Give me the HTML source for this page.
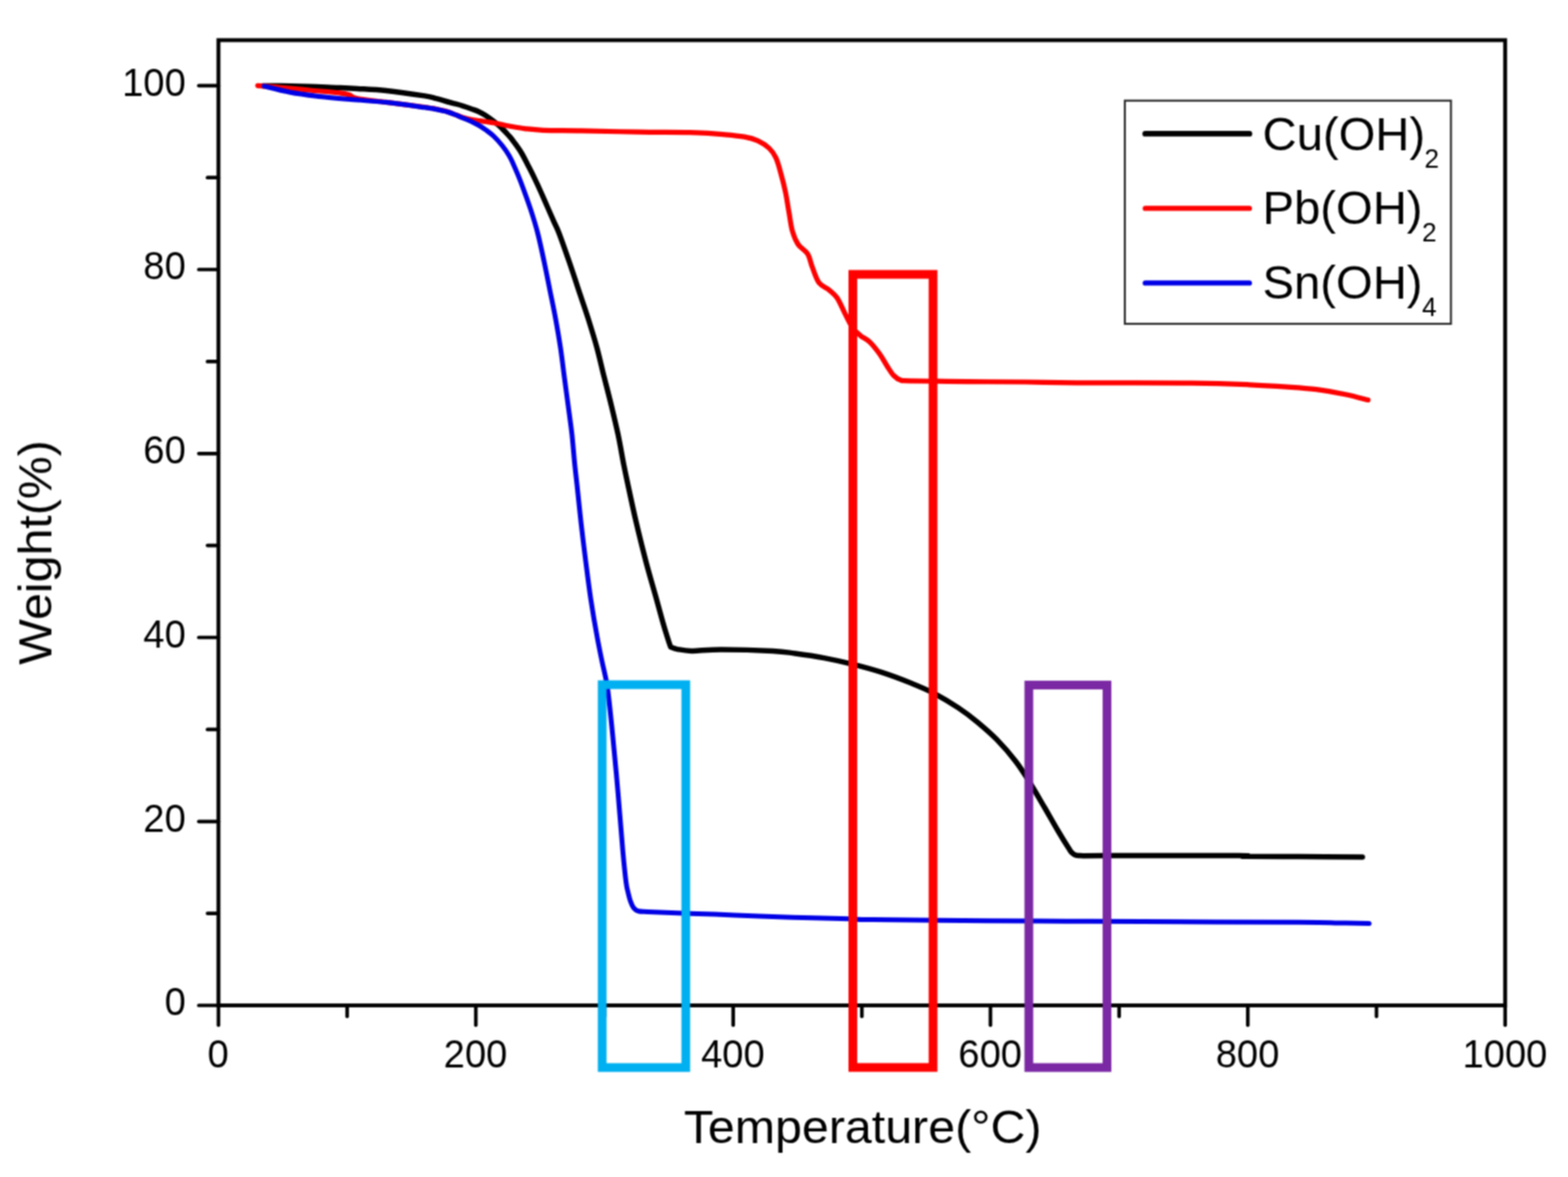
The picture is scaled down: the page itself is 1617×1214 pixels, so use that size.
<!DOCTYPE html>
<html lang="en"><head><meta charset="utf-8"><title>TGA curves</title>
<style>
html,body{margin:0;padding:0;background:#fff;}
body{width:1617px;height:1214px;overflow:hidden;}
svg{display:block;}
text{font-family:"Liberation Sans",Arial,Helvetica,sans-serif;fill:#000;}
.tk{font-size:41px;}
.lab{font-size:47.7px;}
.leg{font-size:48.7px;}
.sub{font-size:27px;}
.c{fill:none;stroke-linecap:round;stroke-linejoin:round;}
</style></head><body>
<svg width="1617" height="1214" viewBox="0 0 1617 1214">
<defs><filter id="soft" x="0" y="0" width="1617" height="1214" filterUnits="userSpaceOnUse" color-interpolation-filters="sRGB"><feConvolveMatrix order="3" kernelMatrix="1 2 1 2 4 2 1 2 1" divisor="16" edgeMode="duplicate" preserveAlpha="false"/></filter></defs>
<rect width="1617" height="1214" fill="#fff"/>
<g id="chart" filter="url(#soft)">
<g id="plot">
<path class="c" d="M271.0,88.6C274.2,88.6 282.0,88.5 290.0,88.6C298.0,88.7 309.4,89.0 319.2,89.3C329.0,89.6 340.7,90.2 349.0,90.5C357.3,90.8 360.6,90.9 368.8,91.4C377.0,91.9 386.8,92.2 398.3,93.5C409.8,94.8 429.3,97.6 437.9,98.9C446.5,100.2 446.0,100.6 450.0,101.6C454.0,102.6 458.4,104.1 461.7,105.0C465.0,105.9 467.4,106.5 470.0,107.2C472.6,107.9 474.8,108.5 477.5,109.3C480.2,110.1 483.4,111.2 486.0,112.2C488.6,113.2 490.8,113.8 493.3,115.0C495.8,116.2 498.4,117.6 501.0,119.3C503.6,121.0 506.5,123.1 509.2,125.2C511.9,127.3 514.4,129.3 517.0,131.8C519.6,134.3 522.8,137.8 525.0,140.2C527.2,142.6 527.9,143.6 530.0,146.5C532.1,149.4 535.3,153.7 537.6,157.5C539.9,161.3 541.8,165.2 544.0,169.5C546.2,173.8 548.7,178.6 551.0,183.4C553.3,188.2 555.7,193.3 558.0,198.5C560.3,203.7 562.8,209.4 565.0,214.5C567.2,219.6 569.4,224.6 571.3,228.9C573.2,233.2 573.9,233.7 576.5,240.5C579.1,247.3 583.5,259.9 586.9,269.7C590.3,279.5 593.5,289.5 596.8,299.4C600.1,309.3 603.6,319.1 606.7,329.0C609.8,338.9 612.9,348.8 615.6,358.7C618.3,368.6 620.4,378.5 622.9,388.4C625.4,398.3 628.0,408.2 630.4,418.1C632.8,428.0 635.1,437.5 637.3,447.8C639.5,458.1 641.7,471.4 643.4,480.0C645.1,488.6 645.4,489.7 647.5,499.6C649.6,509.5 653.1,526.0 656.2,539.2C659.3,552.4 662.8,566.4 666.0,578.7C669.2,591.0 672.7,602.5 675.6,613.0C678.5,623.5 681.5,634.6 683.6,642.0C685.7,649.4 687.0,653.3 688.3,657.5C689.6,661.7 691.0,665.8 691.6,667.4C692.8,667.8 694.8,668.9 698.5,669.6C702.2,670.3 706.4,671.4 713.9,671.4C721.4,671.4 729.8,669.9 743.6,669.9C757.5,669.9 784.3,670.7 797.0,671.4C809.7,672.1 811.2,672.8 820.0,674.0C828.8,675.2 839.8,676.8 849.7,678.6C859.6,680.5 869.5,682.6 879.4,685.1C889.3,687.6 899.2,690.2 909.1,693.4C919.0,696.6 929.8,700.7 938.7,704.3C947.6,707.9 954.2,710.5 962.5,714.8C970.8,719.1 980.6,725.0 988.2,730.0C995.8,735.0 1001.4,739.4 1008.0,744.9C1014.6,750.4 1021.2,755.9 1027.8,762.7C1034.4,769.5 1042.0,778.2 1047.6,785.5C1053.2,792.8 1056.5,798.3 1061.4,806.2C1066.4,814.1 1072.3,824.5 1077.3,833.0C1082.2,841.5 1086.9,849.9 1091.1,857.0C1095.3,864.1 1100.0,871.7 1102.5,875.6C1105.0,879.5 1104.6,879.1 1106.3,880.3C1108.0,881.4 1107.1,882.1 1112.5,882.5C1117.9,882.9 1111.2,882.6 1138.7,882.6C1166.2,882.6 1253.2,882.4 1277.3,882.5C1301.4,882.6 1272.8,883.1 1283.2,883.3C1293.7,883.5 1319.7,883.4 1340.0,883.5C1360.3,883.6 1394.2,883.8 1405.0,883.9" stroke="#000" stroke-width="5.5"/>
<path class="c" d="M265.8,88.3C269.8,88.6 281.1,89.5 290.0,90.3C298.9,91.1 309.4,92.1 319.2,93.0C329.0,93.9 342.2,94.9 349.0,95.7C355.8,96.5 356.8,96.8 360.0,97.8C363.2,98.8 361.7,100.2 368.0,101.5C374.3,102.8 386.4,103.9 398.0,105.4C409.6,106.9 429.2,109.3 437.9,110.5C446.6,111.7 446.0,111.7 450.0,112.5C454.0,113.3 458.4,114.3 461.7,115.3C465.0,116.3 467.4,117.4 470.0,118.4C472.6,119.4 474.8,120.4 477.5,121.2C480.2,122.0 483.4,122.9 486.0,123.4C488.6,124.0 490.8,124.2 493.3,124.5C495.9,124.8 498.7,125.1 501.3,125.5C503.9,125.9 506.6,126.2 509.2,126.7C511.8,127.2 514.5,127.8 517.1,128.3C519.7,128.9 521.0,129.3 525.0,130.0C529.0,130.7 535.1,131.9 540.9,132.6C546.7,133.3 550.2,133.9 560.0,134.3C569.8,134.7 582.9,134.5 599.4,134.8C615.9,135.1 638.9,135.9 658.7,136.2C678.5,136.5 703.2,136.4 718.1,136.8C733.0,137.2 739.5,138.1 747.8,138.8C756.0,139.5 762.0,140.1 767.6,141.1C773.2,142.1 777.1,143.1 781.4,145.1C785.7,147.1 790.2,150.0 793.3,153.0C796.4,156.0 798.2,158.6 800.2,162.9C802.2,167.2 803.6,172.8 805.2,178.7C806.9,184.6 808.7,191.9 810.1,198.5C811.5,205.1 812.3,211.7 813.5,218.3C814.7,224.9 815.5,232.5 817.1,238.1C818.7,243.7 820.4,248.0 823.0,252.0C825.6,256.0 830.5,258.1 832.9,261.9C835.3,265.7 835.6,270.1 837.5,275.0C839.4,279.9 841.5,287.4 844.5,291.5C847.5,295.6 852.3,296.8 855.4,299.4C858.5,302.0 860.7,303.4 863.3,307.3C865.9,311.2 868.6,318.0 871.2,323.1C873.9,328.2 876.6,334.2 879.2,338.0C881.9,341.8 884.1,343.4 887.1,345.9C890.1,348.4 893.7,349.7 897.0,352.8C900.3,355.9 903.9,360.6 906.9,364.7C909.9,368.8 912.3,373.7 914.8,377.5C917.3,381.3 919.4,385.0 921.7,387.4C924.0,389.8 925.8,391.1 928.6,392.0C931.4,392.9 927.0,392.5 938.5,392.8C950.0,393.1 978.1,393.4 997.9,393.6C1017.7,393.8 1038.6,393.8 1057.3,394.0C1076.0,394.2 1081.4,394.6 1110.0,394.8C1138.6,395.0 1199.0,394.9 1228.7,395.2C1258.4,395.5 1271.6,396.1 1288.1,396.8C1304.6,397.5 1316.2,398.3 1327.7,399.1C1339.2,399.9 1347.5,400.4 1357.4,401.7C1367.3,403.0 1378.2,404.9 1387.1,406.7C1396.0,408.5 1406.8,411.6 1410.8,412.6" stroke="#ff0000" stroke-width="5.2"/>
<path class="c" d="M272.3,88.9C276.8,90.0 289.9,93.5 299.4,95.2C308.8,97.0 319.1,98.2 329.0,99.4C338.9,100.6 347.1,101.3 358.7,102.3C370.2,103.3 385.1,104.2 398.3,105.6C411.5,107.0 429.3,109.6 437.9,110.8C446.5,112.0 446.0,112.0 450.0,112.8C454.0,113.6 458.4,114.5 461.7,115.5C465.0,116.5 467.4,117.5 470.0,118.5C472.6,119.5 474.8,120.7 477.5,121.8C480.2,122.9 483.4,124.1 486.0,125.3C488.6,126.5 490.8,127.5 493.3,129.0C495.8,130.4 498.4,132.1 501.0,134.0C503.6,135.9 506.4,137.8 509.2,140.5C512.0,143.2 515.4,147.0 518.0,150.3C520.6,153.6 523.2,157.5 525.0,160.5C526.8,163.5 526.9,163.8 529.0,168.5C531.1,173.2 534.4,180.6 537.4,188.6C540.4,196.6 544.5,207.7 547.3,216.3C550.1,224.9 552.1,231.1 554.4,240.0C556.7,248.9 559.0,259.8 561.1,269.7C563.2,279.6 565.1,289.5 567.1,299.4C569.1,309.3 571.2,319.1 573.0,329.0C574.8,338.9 576.5,348.8 578.0,358.7C579.5,368.6 580.6,378.5 581.9,388.4C583.2,398.3 584.6,408.2 585.9,418.1C587.2,428.0 588.6,437.5 589.8,447.8C590.9,458.1 591.9,471.4 592.8,480.0C593.7,488.6 593.9,489.7 595.0,499.6C596.1,509.5 597.7,526.0 599.2,539.2C600.7,552.4 602.3,565.5 604.0,578.7C605.7,591.9 607.3,605.1 609.3,618.3C611.3,631.5 614.0,647.1 616.0,657.9C618.0,668.7 619.2,674.4 621.0,683.0C622.8,691.6 624.7,697.0 626.5,709.7C628.3,722.4 630.1,741.1 631.9,759.2C633.7,777.3 635.7,798.7 637.4,818.5C639.1,838.3 640.9,862.7 642.3,877.9C643.7,893.1 644.7,902.7 645.6,909.7C646.5,916.7 646.8,916.7 647.6,920.0C648.4,923.3 649.2,926.9 650.2,929.7C651.2,932.5 652.2,934.9 653.6,936.6C655.0,938.3 656.1,939.1 658.5,939.8C660.9,940.4 661.3,940.2 668.0,940.5C674.7,940.8 683.7,941.1 698.7,941.7C713.7,942.3 738.3,943.1 758.1,943.9C777.9,944.6 797.7,945.6 817.5,946.2C837.3,946.9 863.1,947.4 876.9,947.8C890.6,948.2 876.1,948.3 900.0,948.6C923.9,948.9 986.8,949.5 1020.0,949.8C1053.2,950.1 1072.8,950.1 1099.2,950.2C1125.6,950.3 1138.2,950.4 1178.3,950.6C1218.4,950.8 1306.2,951.0 1340.0,951.2C1373.8,951.4 1369.0,951.8 1381.0,952.0C1393.0,952.2 1406.8,952.5 1412.0,952.6" stroke="#0000e6" stroke-width="5.0"/>
</g>
<g id="axes" stroke="#000" fill="none" stroke-linecap="round">
<rect x="225.3" y="41.4" width="1326.9" height="995.6" stroke-width="4.0" stroke-linejoin="miter"/>
<line x1="205.0" y1="1037.0" x2="225.3" y2="1037.0" stroke-width="3.7"/>
<line x1="214.0" y1="942.1" x2="225.3" y2="942.1" stroke-width="3.7"/>
<line x1="205.0" y1="847.3" x2="225.3" y2="847.3" stroke-width="3.7"/>
<line x1="214.0" y1="752.4" x2="225.3" y2="752.4" stroke-width="3.7"/>
<line x1="205.0" y1="657.5" x2="225.3" y2="657.5" stroke-width="3.7"/>
<line x1="214.0" y1="562.6" x2="225.3" y2="562.6" stroke-width="3.7"/>
<line x1="205.0" y1="467.8" x2="225.3" y2="467.8" stroke-width="3.7"/>
<line x1="214.0" y1="372.9" x2="225.3" y2="372.9" stroke-width="3.7"/>
<line x1="205.0" y1="278.0" x2="225.3" y2="278.0" stroke-width="3.7"/>
<line x1="214.0" y1="183.2" x2="225.3" y2="183.2" stroke-width="3.7"/>
<line x1="205.0" y1="88.3" x2="225.3" y2="88.3" stroke-width="3.7"/>
<line x1="225.3" y1="1037.0" x2="225.3" y2="1057.3" stroke-width="3.7"/>
<line x1="358.0" y1="1037.0" x2="358.0" y2="1048.3" stroke-width="3.7"/>
<line x1="490.7" y1="1037.0" x2="490.7" y2="1057.3" stroke-width="3.7"/>
<line x1="623.4" y1="1037.0" x2="623.4" y2="1048.3" stroke-width="3.7"/>
<line x1="756.1" y1="1037.0" x2="756.1" y2="1057.3" stroke-width="3.7"/>
<line x1="888.8" y1="1037.0" x2="888.8" y2="1048.3" stroke-width="3.7"/>
<line x1="1021.4" y1="1037.0" x2="1021.4" y2="1057.3" stroke-width="3.7"/>
<line x1="1154.1" y1="1037.0" x2="1154.1" y2="1048.3" stroke-width="3.7"/>
<line x1="1286.8" y1="1037.0" x2="1286.8" y2="1057.3" stroke-width="3.7"/>
<line x1="1419.5" y1="1037.0" x2="1419.5" y2="1048.3" stroke-width="3.7"/>
<line x1="1552.2" y1="1037.0" x2="1552.2" y2="1057.3" stroke-width="3.7"/>
</g>
<g id="ticklabels">
<text class="tk" transform="translate(191.6 1047.2) scale(0.96 1)" text-anchor="end">0</text>
<text class="tk" transform="translate(191.6 857.5) scale(0.96 1)" text-anchor="end">20</text>
<text class="tk" transform="translate(191.6 667.7) scale(0.96 1)" text-anchor="end">40</text>
<text class="tk" transform="translate(191.6 478.0) scale(0.96 1)" text-anchor="end">60</text>
<text class="tk" transform="translate(191.6 288.2) scale(0.96 1)" text-anchor="end">80</text>
<text class="tk" transform="translate(191.6 98.5) scale(0.96 1)" text-anchor="end">100</text>
<text class="tk" transform="translate(225.0 1101.4) scale(0.96 1)" text-anchor="middle">0</text>
<text class="tk" transform="translate(490.4 1101.4) scale(0.96 1)" text-anchor="middle">200</text>
<text class="tk" transform="translate(755.8 1101.4) scale(0.96 1)" text-anchor="middle">400</text>
<text class="tk" transform="translate(1021.1 1101.4) scale(0.96 1)" text-anchor="middle">600</text>
<text class="tk" transform="translate(1286.5 1101.4) scale(0.96 1)" text-anchor="middle">800</text>
<text class="tk" transform="translate(1551.9 1101.4) scale(0.96 1)" text-anchor="middle">1000</text>
</g>
<text class="lab" transform="translate(889.6 1179.2) scale(1.045 1)" text-anchor="middle">Temperature(°C)</text>
<text class="lab" transform="translate(53.0,569.8) rotate(-90) scale(1.045 1)" text-anchor="middle">Weight(%)</text>
<g id="legend">
<rect x="1160.0" y="103.8" width="336.3" height="230.2" fill="#fff" stroke="#2a2a2a" stroke-width="2.1"/>
<line x1="1181" y1="137.9" x2="1288.5" y2="137.9" stroke="#000" stroke-width="5.8" stroke-linecap="round"/>
<text class="leg" x="1302" y="154.6">Cu(OH)<tspan class="sub" dy="18" dx="-0.6">2</tspan></text>
<line x1="1181" y1="214.9" x2="1288.5" y2="214.9" stroke="#ff0000" stroke-width="5.2" stroke-linecap="round"/>
<text class="leg" x="1302" y="231.4">Pb(OH)<tspan class="sub" dy="18" dx="-0.6">2</tspan></text>
<line x1="1181" y1="291.9" x2="1288.5" y2="291.9" stroke="#0000e6" stroke-width="5.2" stroke-linecap="round"/>
<text class="leg" x="1302" y="307.5">Sn(OH)<tspan class="sub" dy="18" dx="-0.6">4</tspan></text>
</g>
<g id="boxes" fill="none" stroke-width="9" stroke-linejoin="miter">
<rect x="621" y="706.2" width="86.2" height="394.9" stroke="#00b0f0"/>
<rect x="879.5" y="283" width="82.7" height="818" stroke="#ff0000"/>
<rect x="1061" y="706.6" width="80.6" height="394.5" stroke="#7b28a4"/>
</g>
</g>
</svg></body></html>
